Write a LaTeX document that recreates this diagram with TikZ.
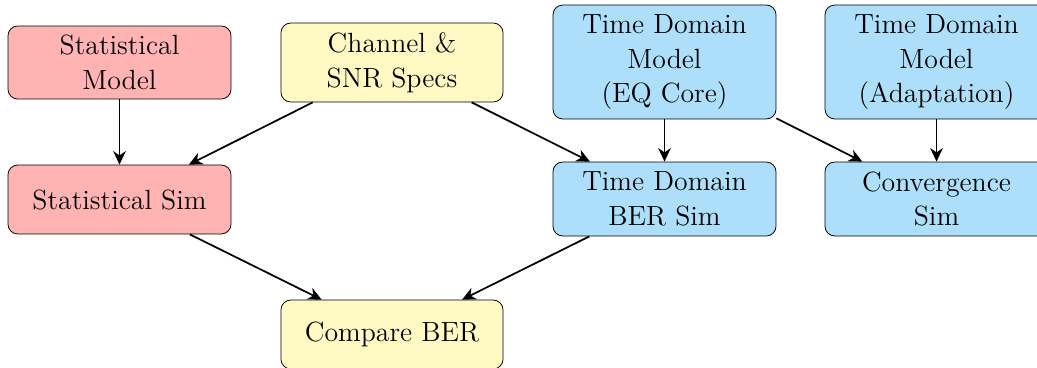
\documentclass[tikz,border=0pt]{standalone}
\usetikzlibrary{arrows.meta}
\definecolor{pinkfill}{RGB}{255,179,179}
\definecolor{yellowfill}{RGB}{255,249,196}
\definecolor{bluefill}{RGB}{173,223,250}
\begin{document}
\begin{tikzpicture}[x=0.518pt,y=-0.518pt,
  box/.style={draw=black, rounded corners=5pt, align=center, inner sep=2pt,
    minimum width=115.5pt, font=\fontsize{14.4}{18}\selectfont},
  conn/.style={line width=0.9pt, -{Stealth[length=7pt,width=6.5pt,inset=2.2pt]}}]
\useasboundingbox (0,0) rectangle (1037,367);
\node[box, fill=pinkfill, minimum height=37.8pt] (sm) at (119.5,62.5) {Statistical\\Model};
\node[box, fill=yellowfill, minimum height=40.9pt, minimum width=115pt] (ch) at (392,62.5) {Channel \&\\SNR Specs};
\node[box, fill=bluefill, minimum height=59pt] (tdm1) at (664.5,62) {Time Domain\\Model\\(EQ Core)};
\node[box, fill=bluefill, minimum height=59pt] (tdm2) at (936.5,62) {Time Domain\\Model\\(Adaptation)};
\node[box, fill=pinkfill, minimum height=35.7pt] (ss) at (119.5,199.5) {Statistical Sim};
\node[box, fill=bluefill, minimum height=38.3pt] (tdb) at (664.5,199) {Time Domain\\BER Sim};
\node[box, fill=bluefill, minimum height=38.3pt] (cs) at (936.5,199) {Convergence\\Sim};
\node[box, fill=yellowfill, minimum height=35.7pt, minimum width=115pt] (cb) at (392,334.5) {Compare BER};
\draw[conn] (sm) -- (ss);
\draw[conn] (ch) -- (ss);
\draw[conn] (ch) -- (tdb);
\draw[conn] (tdm1) -- (tdb);
\draw[conn] (tdm1) -- (cs);
\draw[conn] (tdm2) -- (cs);
\draw[conn] (ss) -- (cb);
\draw[conn] (tdb) -- (cb);
\end{tikzpicture}
\end{document}
